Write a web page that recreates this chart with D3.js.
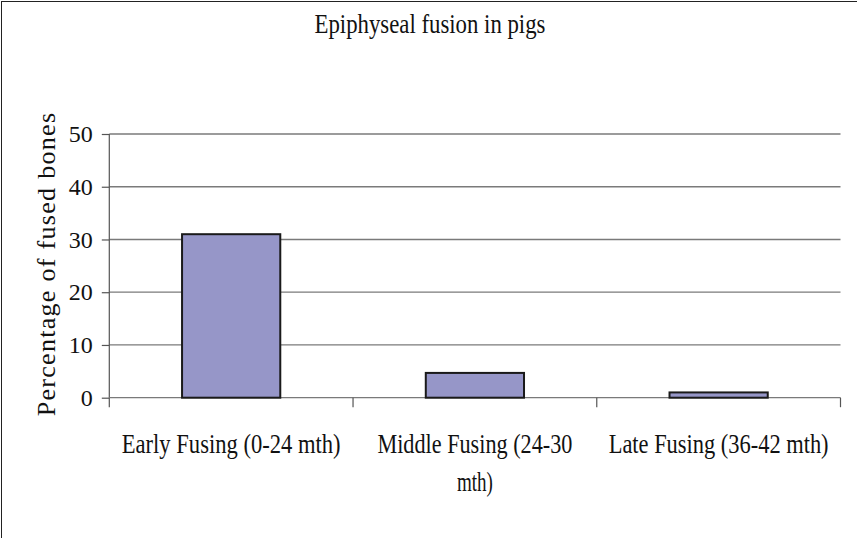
<!DOCTYPE html>
<html>
<head>
<meta charset="utf-8">
<script src="https://cdn.jsdelivr.net/npm/d3@7"></script>
<style>
  html, body { margin: 0; padding: 0; background: #fff; }
  svg { display: block; }
  text { font-family: "Liberation Serif", "Times New Roman", serif; fill: #111; }
</style>
</head>
<body>
<svg id="chart" width="857" height="538"></svg>
<script>
// ---- data ----
const categories = ["Early Fusing (0-24 mth)", "Middle Fusing (24-30 mth)", "Late Fusing (36-42 mth)"];
const values = [31.0, 4.7, 1.0];
const categoryLabelLines = [["Early Fusing (0-24 mth)"], ["Middle Fusing (24-30", "mth)"], ["Late Fusing (36-42 mth)"]];
const yTicks = [0, 10, 20, 30, 40, 50];
const title = "Epiphyseal fusion in pigs";
const yTitle = "Percentage of fused bones";

// ---- layout ----
const W = 857, H = 538;
const plot = { left: 109.3, right: 840.5, top: 134, bottom: 397.7 };
const svg = d3.select("#chart");

// frame (top and left edges visible)
svg.append("rect").attr("x", 1.5).attr("y", 1.5).attr("width", W - 1).attr("height", H - 1)
  .attr("fill", "none").attr("stroke", "#222").attr("stroke-width", 1);

const y = d3.scaleLinear().domain([0, 50]).range([plot.bottom, plot.top]);
const x = d3.scaleBand().domain(categories).range([plot.left, plot.right])
  .paddingInner(0.597).paddingOuter(0.2985);
const step = x.step();

// gridlines
svg.append("g").selectAll("line").data(yTicks.filter(d => d > 0)).join("line")
  .attr("x1", plot.left).attr("x2", plot.right)
  .attr("y1", d => y(d)).attr("y2", d => y(d))
  .attr("stroke", "#7a7a7a").attr("stroke-width", 1.3);

// y axis
const yAxis = d3.axisLeft(y).tickValues(yTicks).tickSize(7.5).tickPadding(9).tickFormat(d3.format("d"));
const gy = svg.append("g").attr("transform", `translate(${plot.left},0)`).call(yAxis);
gy.select(".domain").remove();
gy.selectAll(".tick line").attr("stroke", "#555").attr("stroke-width", 1.2);
gy.selectAll(".tick text").attr("font-size", 24).attr("fill", "#111")
  .attr("font-family", "Liberation Serif, serif");
svg.append("line").attr("x1", plot.left).attr("x2", plot.left)
  .attr("y1", plot.top).attr("y2", plot.bottom + 9.5)
  .attr("stroke", "#555").attr("stroke-width", 1.2);

// x axis line
svg.append("line").attr("x1", plot.left).attr("x2", plot.right)
  .attr("y1", plot.bottom).attr("y2", plot.bottom)
  .attr("stroke", "#7a7a7a").attr("stroke-width", 1.3);
// category boundary ticks
svg.append("g").selectAll("line").data(categories).join("line")
  .attr("x1", d => x(d) - x.paddingOuter() * step + step).attr("x2", d => x(d) - x.paddingOuter() * step + step)
  .attr("y1", plot.bottom).attr("y2", plot.bottom + 9.5)
  .attr("stroke", "#555").attr("stroke-width", 1.2);

// bars
svg.append("g").selectAll("rect").data(values).join("rect")
  .attr("x", (d, i) => x(categories[i]))
  .attr("y", d => y(d))
  .attr("width", x.bandwidth())
  .attr("height", d => y(0) - y(d))
  .attr("fill", "#9696c8").attr("stroke", "#1a1a1a").attr("stroke-width", 2);

// condensed serif text helper: horizontal scale so the text has the target width
function condensed(g, str, cx, cy, size, width) {
  const t = g.append("text").attr("text-anchor", "middle").attr("font-size", size).text(str);
  const natural = t.node().getComputedTextLength();
  const sx = Math.min(1, width / natural);
  t.attr("transform", `translate(${cx},${cy}) scale(${sx},1)`);
  return t;
}

// category labels
let wi = 0;
const widthsFlat = [219, 195, 36, 220];
categoryLabelLines.forEach((lines, i) => {
  const cx = x(categories[i]) + x.bandwidth() / 2;
  lines.forEach((ln, j) => {
    condensed(svg, ln, cx, 453 + j * 38, 27, widthsFlat[wi++]);
  });
});

// title
condensed(svg, title, 430, 33, 27, 231);

// y title
svg.append("text").attr("transform", "translate(55,264) rotate(-90)")
  .attr("text-anchor", "middle").attr("font-size", 26)
  .attr("letter-spacing", 1.3)
  .text(yTitle);
</script>
</body>
</html>
